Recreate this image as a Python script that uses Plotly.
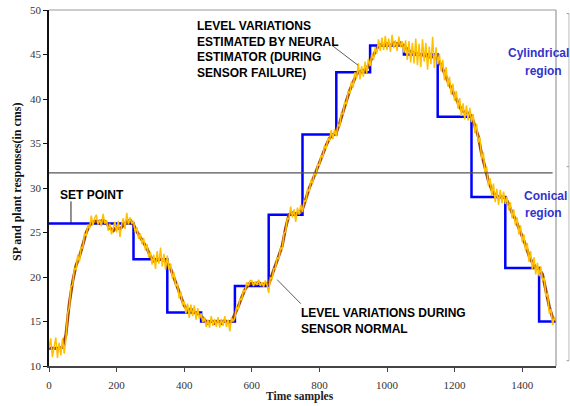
import plotly.graph_objects as go

# ---- data ----
sp_x = [0, 250, 350, 450, 550, 650, 750, 850, 950, 1050, 1150, 1250, 1350, 1450, 1500]
sp_y = [26, 22, 16, 15, 19, 27, 36, 43, 46, 45, 38, 29, 21, 15, 15]

est_x = list(range(0, 1501, 10))
est_y = [
    12.0, 12.0, 12.0, 12.0, 12.1,
    13.5, 17.0, 19.5, 21.3, 22.3,
    23.6, 25.0, 25.8, 26.2, 26.3,
    26.2, 26.4, 26.1, 25.5, 25.2,
    25.6, 25.4, 25.8, 26.2, 26.4,
    25.9, 25.1, 24.5, 23.9, 23.2,
    22.3, 21.8, 21.9, 22.0, 21.9,
    21.6, 20.9, 19.9, 18.8, 17.7,
    16.8, 16.3, 16.4, 16.0, 15.9,
    15.6, 15.2, 14.8, 15.1, 14.8,
    15.1, 14.8, 15.1, 14.9, 15.0,
    15.8, 16.7, 17.7, 18.6, 19.2,
    19.3, 19.2, 19.4, 19.1, 19.3,
    19.2, 20.2, 21.2, 22.4, 23.5,
    25.5, 27.0, 27.2, 27.1, 27.3,
    27.6, 28.9, 30.0, 30.9, 31.8,
    32.9, 33.8, 34.8, 35.6, 36.0,
    36.2, 37.3, 38.7, 39.8, 41.0,
    42.0, 42.8, 43.1, 43.2, 43.4,
    44.2, 44.9, 45.7, 46.1, 46.0,
    46.2, 46.0, 46.3, 46.2, 46.3,
    45.9, 45.6, 45.3, 45.2, 45.1,
    45.0, 44.9, 44.8, 44.7, 44.8,
    44.5, 43.8, 42.8, 42.0, 41.2,
    40.4, 39.5, 38.8, 38.5, 38.4,
    38.1, 36.9, 35.8, 33.8, 32.4,
    30.8, 29.8, 29.2, 29.0, 29.0,
    28.9, 28.2, 27.2, 26.5, 25.5,
    24.6, 23.6, 22.4, 21.6, 21.1,
    20.9, 20.3, 18.5, 16.7, 15.4,
    15.1,
]

meas_x = list(range(0, 1501, 5))
meas_y = [
    12.0, 13.1, 11.0, 12.4, 13.2, 10.9, 12.6, 11.2, 13.1, 11.4,
    13.0, 15.9, 16.6, 18.9, 19.1, 21.0, 20.8, 22.5, 21.7, 23.4,
    23.2, 24.9, 24.6, 25.9, 25.4, 26.9, 25.8, 26.6, 27.0, 25.9,
    26.5, 25.7, 27.1, 26.0, 26.4, 25.2, 26.0, 24.8, 25.6, 26.2,
    25.0, 26.3, 24.5, 25.9, 26.6, 25.4, 27.2, 25.9, 26.7, 26.0,
    26.3, 25.0, 25.6, 24.3, 24.9, 23.7, 24.4, 23.0, 23.7, 22.2,
    22.8, 21.4, 22.5, 20.9, 22.9, 21.5, 23.3, 21.2, 22.6, 20.8,
    22.4, 20.8, 21.5, 19.8, 20.5, 18.9, 19.3, 17.6, 18.4, 16.8,
    17.3, 15.9, 17.0, 15.4, 16.9, 15.6, 16.8, 15.2, 16.5, 15.3,
    15.9, 14.9, 15.5, 14.4, 15.2, 14.3, 15.6, 14.5, 15.3, 14.4,
    15.5, 14.3, 15.3, 14.5, 15.6, 14.4, 15.2, 13.9, 15.4, 15.0,
    15.4, 16.7, 16.3, 17.6, 17.4, 18.5, 18.3, 19.4, 19.0, 19.6,
    19.6, 19.0, 19.5, 19.1, 19.7, 19.0, 19.4, 18.9, 19.6, 19.1,
    18.2, 19.9, 19.8, 20.9, 21.0, 22.2, 22.0, 23.3, 23.1, 24.9,
    25.1, 26.6, 26.5, 27.9, 26.7, 27.6, 26.2, 27.8, 27.0, 28.1,
    27.3, 28.6, 28.5, 29.9, 29.6, 30.9, 30.5, 31.8, 31.4, 32.7,
    32.6, 33.7, 33.4, 34.8, 34.4, 35.6, 35.3, 36.5, 35.5, 36.6,
    35.8, 37.2, 36.9, 38.4, 38.3, 39.7, 39.4, 40.9, 40.6, 42.0,
    41.3, 43.0, 42.3, 44.0, 42.2, 43.7, 42.5, 44.2, 42.9, 44.5,
    43.7, 45.1, 44.4, 45.8, 45.1, 46.7, 45.4, 46.9, 45.5, 47.1,
    45.5, 46.8, 45.3, 47.2, 45.7, 46.6, 45.4, 47.0, 45.8, 46.5,
    45.2, 46.6, 44.4, 46.5, 44.1, 46.3, 44.0, 46.8, 43.8, 46.2,
    43.6, 46.7, 44.2, 46.3, 43.3, 45.9, 43.9, 47.0, 43.5, 45.8,
    43.9, 45.1, 43.1, 44.4, 42.1, 43.6, 41.4, 42.5, 40.5, 41.7,
    39.8, 40.9, 38.9, 40.1, 38.1, 39.5, 37.7, 39.3, 37.6, 39.0,
    37.4, 38.3, 36.2, 37.2, 35.1, 35.7, 33.2, 34.0, 31.7, 32.4,
    30.2, 31.1, 29.1, 30.5, 28.4, 29.9, 28.1, 29.8, 28.3, 29.6,
    28.2, 29.0, 27.5, 28.4, 26.6, 27.6, 25.8, 26.7, 24.8, 25.8,
    23.9, 24.8, 22.9, 23.8, 21.7, 22.9, 20.8, 22.2, 20.3, 21.6,
    20.1, 21.2, 19.6, 19.9, 17.8, 18.2, 15.9, 16.4, 14.6, 15.5,
    15.1,
]

boundary_level = 31.7
x_ticks = [0, 200, 400, 600, 800, 1000, 1200, 1400]
y_ticks = [10, 15, 20, 25, 30, 35, 40, 45, 50]

# ---- figure ----
fig = go.Figure()
fig.add_trace(go.Scatter(x=sp_x, y=sp_y, mode="lines", line=dict(color="#0000FF", width=2.5, shape="hv"),
                         showlegend=False, hoverinfo="skip"))
fig.add_trace(go.Scatter(x=est_x, y=est_y, mode="lines", line=dict(color="#9A3D10", width=3),
                         showlegend=False, hoverinfo="skip"))
fig.add_trace(go.Scatter(x=meas_x, y=meas_y, mode="lines", line=dict(color="#FFC000", width=1.5),
                         showlegend=False, hoverinfo="skip"))

serif = "Liberation Serif, Times New Roman, serif"
sans = "Liberation Sans, Arial, sans-serif"

fig.update_layout(
    width=570, height=406,
    margin=dict(l=49, r=14, t=10, b=40),
    paper_bgcolor="white", plot_bgcolor="white",
    xaxis=dict(range=[0, 1500], tickvals=x_ticks, ticks="outside", ticklen=4, tickcolor="#444",
               showline=True, linecolor="#444", linewidth=1.5, showgrid=False, zeroline=False,
               automargin=False, ticklabelstandoff=4,
               tickfont=dict(family=serif, size=11, color="#333")),
    yaxis=dict(range=[10, 50], tickvals=y_ticks, ticks="outside", ticklen=4, tickcolor="#111",
               showline=True, linecolor="#111", linewidth=1.5, showgrid=False, zeroline=False,
               automargin=False,
               tickfont=dict(family=serif, size=11, color="#333")),
)

# axis titles (paper coords relative to plot area: left=49px, width=507px, bottom=366px, height=356px)
fig.add_annotation(x=(300 - 49) / 507, y=(366 - 396) / 356, xref="paper", yref="paper",
                   xanchor="center", yanchor="middle",
                   text="<b>Time samples</b>", showarrow=False, font=dict(family=serif, size=11.5, color="#222"))
fig.add_annotation(x=(17 - 49) / 507, y=(366 - 182) / 356, xref="paper", yref="paper",
                   xanchor="center", yanchor="middle",
                   text="<b>SP and plant responses(in cms)</b>", textangle=-90, showarrow=False,
                   font=dict(family=serif, size=12, color="#111"))

# frame (top/right) and boundary line
fig.add_shape(type="line", xref="paper", yref="paper", x0=0, x1=1, y0=1, y1=1, line=dict(color="#999", width=1.2))
fig.add_shape(type="line", xref="paper", yref="paper", x0=1, x1=1, y0=0, y1=1, line=dict(color="#999", width=1.2))
fig.add_shape(type="line", xref="x", yref="y", x0=0, x1=1490, y0=boundary_level, y1=boundary_level,
              line=dict(color="#555", width=1.3))
# partial secondary axis at the far right
fig.add_shape(type="line", xref="paper", yref="paper", x0=1.0255, x1=1.0255, y0=0.015, y1=0.99,
              line=dict(color="#bbb", width=1))
for yy in [0.99, 0.56, 0.015]:
    fig.add_shape(type="line", xref="paper", yref="paper", x0=1.021, x1=1.0255, y0=yy, y1=yy,
                  line=dict(color="#999", width=1))

# annotations
fig.add_annotation(x=26, y=29.2, xref="x", yref="y", text="<b>SET POINT</b>", showarrow=False,
                   xanchor="left", yanchor="middle", font=dict(family=sans, size=12, color="black"))
fig.add_shape(type="line", xref="x", yref="y", x0=65, x1=65, y0=28.5, y1=26.0, line=dict(color="#222", width=1))

fig.add_annotation(x=432, y=45.6, xref="x", yref="y",
                   text="<b>LEVEL VARIATIONS<br>ESTIMATED BY NEURAL<br>ESTIMATOR (DURING<br>SENSOR FAILURE)</b>",
                   showarrow=False, xanchor="left", yanchor="middle", align="left",
                   font=dict(family=sans, size=12, color="black"))
fig.add_shape(type="line", xref="x", yref="y", x0=838, x1=914, y0=46.0, y1=43.8, line=dict(color="#333", width=0.8))

fig.add_annotation(x=740, y=15.1, xref="x", yref="y",
                   text="<b>LEVEL VARIATIONS DURING<br>SENSOR NORMAL</b>",
                   showarrow=False, xanchor="left", yanchor="middle", align="left",
                   font=dict(family=sans, size=12, color="black"))
fig.add_shape(type="line", xref="x", yref="y", x0=675, x1=745, y0=19.7, y1=17.0, line=dict(color="#333", width=0.8))

blue_txt = "#3333CC"
fig.add_annotation(x=1352, y=45.2, xref="x", yref="y", text="<b>Cylindrical</b>", showarrow=False,
                   xanchor="left", yanchor="middle", font=dict(family=sans, size=12, color=blue_txt))
fig.add_annotation(x=1462, y=43.1, xref="x", yref="y", text="<b>region</b>", showarrow=False,
                   xanchor="center", yanchor="middle", font=dict(family=sans, size=12, color=blue_txt))
fig.add_annotation(x=1400, y=29.1, xref="x", yref="y", text="<b>Conical</b>", showarrow=False,
                   xanchor="left", yanchor="middle", font=dict(family=sans, size=12, color=blue_txt))
fig.add_annotation(x=1462, y=27.2, xref="x", yref="y", text="<b>region</b>", showarrow=False,
                   xanchor="center", yanchor="middle", font=dict(family=sans, size=12, color=blue_txt))

fig.write_html("out.html")
